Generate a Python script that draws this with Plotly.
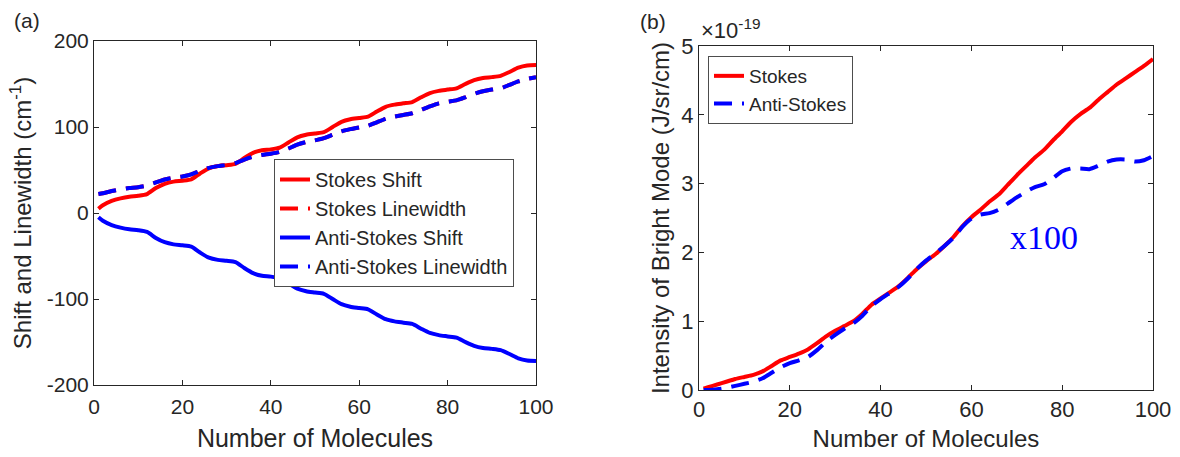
import plotly.graph_objects as go

# ---------------- data ----------------
molecules = [1, 2, 4, 6, 8, 10, 12, 14, 16, 18, 20, 22, 24, 26, 28, 30, 32, 34, 36, 38, 40,
             42, 44, 46, 48, 50, 52, 54, 56, 58, 60, 62, 64, 66, 68, 70, 72, 74, 76, 78, 80,
             82, 84, 86, 88, 90, 92, 94, 96, 98, 100]

# panel (a): shift and linewidth (cm^-1)
stokes_shift = [5, 9, 14, 17, 19, 20, 22, 29, 34, 36.5, 37.5, 39, 46, 52, 54.5, 55.5, 57, 64, 70, 73, 74,
                76, 82, 88, 91, 92.5, 94, 100, 106, 109, 110.5, 112, 118, 123.5, 126, 127.5, 129, 134.5, 139.5, 142, 143.5,
                145, 150, 154.5, 157, 158, 159.5, 164, 169, 171.5, 172]
stokes_linewidth = [22, 23, 25.5, 27.5, 29, 30, 32, 35.5, 39, 41, 42.5, 45, 49, 52.5, 54.5, 56, 58, 62, 65.5, 67.5, 69,
                    71, 75, 79.5, 82.5, 84.5, 87, 91, 95, 97.5, 99.5, 101.5, 105.5, 109.5, 112, 114, 116, 120, 124, 127.5, 129.5,
                    131, 134.5, 138.5, 141.5, 143.5, 145, 149, 153, 156, 158]
anti_stokes_shift = [-5, -9, -14, -17, -19, -20, -22, -29, -34, -36.5, -37.5, -39, -46, -52, -54.5, -55.5, -57, -64, -70, -73, -74,
                     -76, -82, -88, -91, -92.5, -94, -100, -106, -109, -110.5, -112, -118, -123.5, -126, -127.5, -129, -134.5, -139.5, -142, -143.5,
                     -145, -150, -154.5, -157, -158, -159.5, -164, -169, -171.5, -172]
anti_stokes_linewidth = [22, 23, 25.5, 27.5, 29, 30, 32, 35.5, 39, 41, 42.5, 45, 49, 52.5, 54.5, 56, 58, 62, 65.5, 67.5, 69,
                         71, 75, 79.5, 82.5, 84.5, 87, 91, 95, 97.5, 99.5, 101.5, 105.5, 109.5, 112, 114, 116, 120, 124, 127.5, 129.5,
                         131, 134.5, 138.5, 141.5, 143.5, 145, 149, 153, 156, 158]

# panel (b): intensity of bright mode (x 1e-19 J/sr/cm); anti-Stokes shown x100
stokes_intensity = [0.02, 0.04, 0.08, 0.12, 0.16, 0.19, 0.22, 0.27, 0.35, 0.43, 0.48, 0.53, 0.59, 0.68, 0.78, 0.86, 0.93, 1.00, 1.11, 1.24, 1.33,
                    1.42, 1.51, 1.63, 1.76, 1.87, 1.97, 2.09, 2.22, 2.38, 2.51, 2.62, 2.74, 2.84, 2.98, 3.12, 3.25, 3.38, 3.49, 3.63, 3.76,
                    3.90, 4.01, 4.10, 4.22, 4.33, 4.44, 4.53, 4.62, 4.71, 4.81]
anti_stokes_intensity_x100 = [0.0, 0.0, 0.01, 0.03, 0.06, 0.09, 0.12, 0.17, 0.25, 0.33, 0.39, 0.43, 0.48, 0.58, 0.70, 0.80, 0.89, 0.97, 1.08, 1.22, 1.32,
                              1.41, 1.50, 1.62, 1.76, 1.88, 1.98, 2.09, 2.21, 2.37, 2.49, 2.55, 2.57, 2.62, 2.71, 2.80, 2.88, 2.95, 2.99, 3.08, 3.18,
                              3.22, 3.22, 3.21, 3.26, 3.32, 3.35, 3.35, 3.32, 3.34, 3.40]

x_ticks = [0, 20, 40, 60, 80, 100]
a_y_ticks = [-200, -100, 0, 100, 200]
a_y_ticktext = ["-200", "-100", "0", "100", "200"]
b_y_ticks = [0, 1, 2, 3, 4, 5]

# ---------------- style ----------------
RED = "#ff0000"
BLUE = "#0000ff"
AX = "#262626"
FONT = "Liberation Sans"
W, H = 1180, 457
LW = 4
DASH = "18px,10px"

fig = go.Figure()

common_line = dict(shape="spline", smoothing=0.6)

fig.add_trace(go.Scatter(x=molecules, y=stokes_shift, name="Stokes Shift", mode="lines",
                         line=dict(color=RED, width=LW, **common_line), xaxis="x", yaxis="y", legend="legend"))
fig.add_trace(go.Scatter(x=molecules, y=stokes_linewidth, name="Stokes Linewidth", mode="lines",
                         line=dict(color=RED, width=LW, dash=DASH, **common_line), xaxis="x", yaxis="y", legend="legend"))
fig.add_trace(go.Scatter(x=molecules, y=anti_stokes_shift, name="Anti-Stokes Shift", mode="lines",
                         line=dict(color=BLUE, width=LW, **common_line), xaxis="x", yaxis="y", legend="legend"))
fig.add_trace(go.Scatter(x=molecules, y=anti_stokes_linewidth, name="Anti-Stokes Linewidth", mode="lines",
                         line=dict(color=BLUE, width=LW, dash=DASH, **common_line), xaxis="x", yaxis="y", legend="legend"))

fig.add_trace(go.Scatter(x=molecules, y=stokes_intensity, name="Stokes", mode="lines",
                         line=dict(color=RED, width=LW, **common_line), xaxis="x2", yaxis="y2", legend="legend2"))
fig.add_trace(go.Scatter(x=molecules, y=anti_stokes_intensity_x100, name="Anti-Stokes", mode="lines",
                         line=dict(color=BLUE, width=LW, dash=DASH, **common_line), xaxis="x2", yaxis="y2", legend="legend2"))

# plot-area pixel boxes
a_box = (94, 536, 41, 385)    # left, right, top, bottom
b_box = (699, 1153, 46, 390)


def xdom(b):
    return [b[0] / W, b[1] / W]


def ydom(b):
    return [(H - b[3]) / H, (H - b[2]) / H]


def axis_style(tickvals, rng, tickfont_size, title_text, title_size, standoff, domain, anchor,
               ticktext=None, label_standoff=None):
    d = dict(
        domain=domain, anchor=anchor, range=rng, tickvals=tickvals,
        showline=True, linecolor=AX, linewidth=1, mirror="ticks",
        ticks="inside", ticklen=5, tickwidth=1, tickcolor=AX,
        showgrid=False, zeroline=False, automargin=False,
        tickfont=dict(family=FONT, size=tickfont_size, color=AX),
        title=dict(text=title_text, font=dict(family=FONT, size=title_size, color=AX), standoff=standoff),
    )
    if ticktext is not None:
        d["ticktext"] = ticktext
    if label_standoff is not None:
        d["ticklabelstandoff"] = label_standoff
    return d


fig.update_layout(
    width=W, height=H,
    margin=dict(l=0, r=0, t=0, b=0, pad=0, autoexpand=False),
    paper_bgcolor="white", plot_bgcolor="white",
    xaxis=axis_style(x_ticks, [0, 100], 21, "Number of Molecules", 25, 12, xdom(a_box), "y",
                     label_standoff=3),
    yaxis=axis_style(a_y_ticks, [-200, 200], 21, "Shift and Linewidth (cm<sup>-1</sup>)", 24, 8, ydom(a_box), "x",
                     ticktext=a_y_ticktext),
    xaxis2=axis_style(x_ticks, [0, 100], 22, "Number of Molecules", 24, 8, xdom(b_box), "y2"),
    yaxis2=axis_style(b_y_ticks, [0, 5], 22, "Intensity of Bright Mode (J/sr/cm)", 24, 4, ydom(b_box), "x2"),
    legend=dict(
        x=274 / W, y=(H - 159) / H, xanchor="left", yanchor="top",
        bgcolor="white", bordercolor="#4d4d4d", borderwidth=1,
        font=dict(family=FONT, size=20, color=AX), tracegroupgap=0,
    ),
    legend2=dict(
        x=708 / W, y=(H - 56) / H, xanchor="left", yanchor="top",
        bgcolor="white", bordercolor="#4d4d4d", borderwidth=1,
        font=dict(family=FONT, size=19, color=AX), tracegroupgap=0,
    ),
    showlegend=True,
)

# panel labels, exponent and scale note
fig.add_annotation(text="(a)", x=12 / W, y=(H - 7) / H, xref="paper", yref="paper",
                   xanchor="left", yanchor="top", showarrow=False,
                   font=dict(family=FONT, size=21, color=AX))
fig.add_annotation(text="(b)", x=638 / W, y=(H - 8) / H, xref="paper", yref="paper",
                   xanchor="left", yanchor="top", showarrow=False,
                   font=dict(family=FONT, size=21, color=AX))
fig.add_annotation(text="×10<sup>-19</sup>", x=699 / W, y=(H - 45) / H, xref="paper", yref="paper",
                   xanchor="left", yanchor="bottom", showarrow=False,
                   font=dict(family=FONT, size=22, color=AX))
fig.add_annotation(text="x100", x=76, y=2.22, xref="x2", yref="y2",
                   xanchor="center", yanchor="middle", showarrow=False,
                   font=dict(family="Liberation Serif", size=34, color=BLUE))

fig.write_html("out.html")
